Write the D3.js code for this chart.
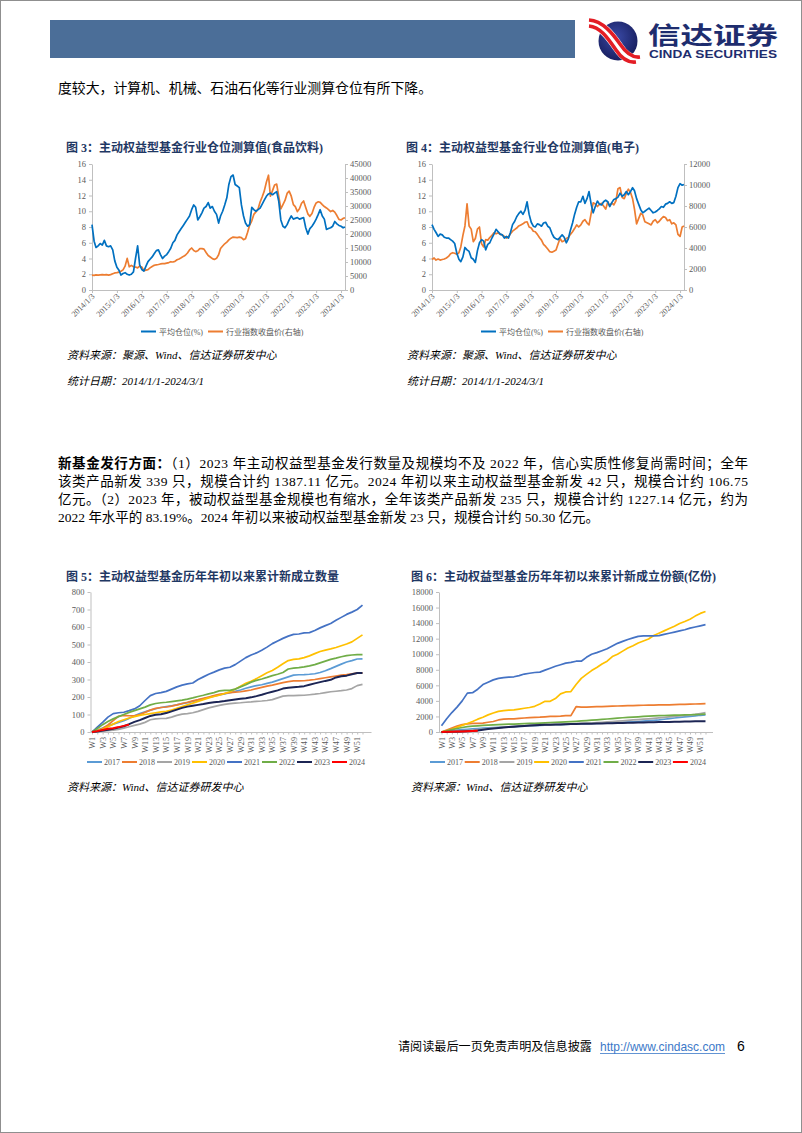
<!DOCTYPE html>
<html><head><meta charset="utf-8">
<script src="https://cdn.jsdelivr.net/npm/d3@7"></script>
<style>html,body{margin:0;padding:0;background:#fff}svg{display:block}</style>
</head><body>
<svg id="page" width="802" height="1133"></svg>
<script>
// ---------------- DATA ----------------
const yearTickLabels = ["2014/1/3","2015/1/3","2016/1/3","2017/1/3","2018/1/3","2019/1/3","2020/1/3","2021/1/3","2022/1/3","2023/1/3","2024/1/3"];
const dualLeftTicks = [0,2,4,6,8,10,12,14,16];
const foodRightTicks = [0,5000,10000,15000,20000,25000,30000,35000,40000,45000];
const elecRightTicks = [0,2000,4000,6000,8000,10000,12000];
const dualLegend = ["平均仓位(%)","行业指数收盘价(右轴)"];

// monthly readings, 2014/1/3 ... 2024/3/1
const foodPosition = [8.3,6.2,5.4,5.6,5.9,5.7,6.3,5.6,5.5,5.6,5.1,3.7,
2.9,2.5,1.9,2.1,2.2,2.0,1.9,2.0,2.3,4.0,5.6,3.2,
2.6,2.4,3.0,3.6,3.9,4.2,4.6,5.0,5.1,4.5,4.0,4.3,
4.5,4.9,5.3,6.0,6.3,7.0,7.4,7.8,8.2,8.6,9.0,9.4,
10.2,10.8,10.5,8.9,9.3,9.8,10.4,10.6,11.1,10.4,10.6,10.0,
9.6,8.5,9.4,10.0,10.8,11.7,13.4,14.4,14.6,13.4,13.2,13.0,
10.8,9.4,8.5,8.1,8.3,10.5,10.2,10.0,10.2,10.4,10.9,11.4,
11.9,12.2,12.3,12.1,12.3,12.5,11.3,8.9,8.1,7.9,8.3,8.9,
9.4,9.0,9.1,9.2,9.0,9.1,9.2,7.9,7.1,7.8,8.1,8.5,
9.0,9.6,10.2,9.4,9.0,7.7,7.8,7.9,8.1,8.7,8.4,8.2,
8.1,7.9,8.0];
const foodIndex = [5300,5200,5400,5300,5400,5500,5400,5500,5300,5500,5800,6100,
6200,6400,6700,7200,8500,11300,8300,8800,8300,8200,7900,8500,
8200,6900,7100,7300,7900,8400,8800,9000,9100,9300,9400,9400,
9600,9800,10100,10000,10200,10800,11100,11500,12000,12400,13200,14300,
15000,14100,13700,14000,14800,14800,14600,13400,12300,11800,11200,10900,
11300,12600,14800,15700,16500,17100,17900,18500,18900,18800,18700,18900,
18700,18000,18300,20600,23200,24700,27000,27900,28900,31400,33300,35300,
38500,41000,33500,35500,37500,37800,33500,29000,30500,32000,34500,35300,
33500,30500,29800,28000,29000,31000,31800,29500,27200,26300,27300,29500,
31100,31500,31300,30500,29800,29300,28700,28000,28400,27800,26600,25200,
25000,25600,25800];
const elecPosition = [8.3,7.7,7.3,6.8,7.1,7.0,6.7,6.6,6.6,6.4,6.2,5.9,
4.7,3.9,3.6,4.2,5.4,5.1,4.9,4.1,3.9,3.5,5.0,6.0,
6.4,6.2,5.1,5.8,6.0,6.6,7.1,7.7,7.4,7.1,7.0,6.6,
6.8,6.6,7.3,8.3,8.7,9.3,9.7,10.0,9.6,10.1,11.2,9.6,
8.6,8.1,8.0,8.4,8.3,8.1,8.5,8.6,8.1,7.9,7.2,6.7,
6.5,6.4,6.7,7.0,6.7,6.0,6.5,7.6,8.5,9.6,10.5,11.2,
11.2,11.9,11.0,11.6,12.5,10.9,9.8,10.6,11.3,10.9,10.8,11.2,
11.4,11.2,10.6,11.1,11.5,11.6,11.8,12.3,11.9,12.1,12.5,12.1,
12.5,13.0,12.6,11.6,10.9,10.2,9.8,10.0,10.2,10.4,10.1,9.8,
9.9,10.1,10.3,10.6,10.5,10.9,11.0,11.2,11.0,11.1,11.9,13.0,
13.5,13.3,13.4];
const elecIndex = [2900,3050,2850,2950,2850,2900,2950,3050,3200,3450,3550,3500,
3400,3550,4100,5200,6100,8200,6100,5800,4600,4900,5800,6000,
4400,4100,4800,4750,5000,5200,5450,5350,5450,5300,5250,5100,
4950,5100,5350,5600,5750,5900,6100,6200,6300,6450,6500,6000,
5900,5600,5550,5300,5000,4750,4350,4150,3900,3650,3600,3700,
3800,4400,4900,4600,4700,4900,5000,5300,5550,5850,6200,6000,
6200,6550,6700,6400,6200,7300,8300,8200,7950,8150,8250,8000,
7700,8400,8000,8300,8100,8500,9650,9750,8800,8700,9200,9600,
9300,8700,7700,6300,6800,7300,7150,6500,6400,6300,6200,6550,
6700,6400,6550,6800,7000,6900,6600,6700,6300,6400,6200,5300,
5100,6000,6100];

// weekly cumulative figures
const years = ["2017","2018","2019","2020","2021","2022","2023","2024"];
const weekTickLabels = ["W1","W3","W5","W7","W9","W11","W13","W15","W17","W19","W21","W23","W25","W27","W29","W31","W33","W35","W37","W39","W41","W43","W45","W47","W49","W51"];
const countTicks = [0,100,200,300,400,500,600,700,800];
const shareTicks = [0,2000,4000,6000,8000,10000,12000,14000,16000,18000];

const count2017 = [0,10,22,35,45,55,65,78,92,105,115,125,133,140,145,150,155,162,168,175,182,190,198,205,212,218,225,232,240,250,258,265,270,278,285,295,305,315,325,327,328,330,333,340,350,362,375,388,400,408,417,418];
const count2018 = [0,8,20,40,65,90,95,93,92,100,112,125,135,140,143,148,155,163,170,178,185,193,200,208,215,220,225,228,230,235,240,248,255,262,268,275,282,288,292,292,293,296,300,305,310,315,320,325,328,332,336,338];
const count2019 = [0,2,5,8,10,15,22,30,38,45,55,70,75,77,78,85,95,102,105,110,118,128,138,145,152,158,162,165,167,170,172,175,177,180,185,195,205,208,208,209,210,213,216,220,225,230,233,236,240,248,265,272];
const count2020 = [0,5,15,30,45,60,70,80,88,95,100,105,110,115,118,125,135,145,155,165,175,185,195,203,210,220,230,245,262,278,290,305,322,338,352,370,390,408,415,418,425,435,448,460,468,475,483,493,503,515,535,555];
const count2021 = [0,28,55,85,105,110,113,122,132,150,180,208,220,225,232,245,258,268,275,280,300,315,330,342,355,365,370,385,405,425,440,452,467,485,505,520,535,548,558,560,566,568,580,595,608,620,638,655,672,685,700,725];
const count2022 = [0,20,42,60,75,88,100,112,122,132,142,155,163,167,170,174,178,182,188,195,203,210,218,225,235,238,238,245,258,270,285,295,303,312,322,330,340,360,365,368,372,378,385,395,405,415,422,430,436,440,442,442];
const count2023 = [0,3,8,13,18,25,33,45,58,68,80,92,98,102,108,118,128,138,145,150,155,160,166,170,173,177,182,186,190,193,198,205,213,222,230,238,248,253,256,258,262,270,278,285,292,298,312,318,322,330,337,337];
const count2024 = [0,5,12,18,22,28,35,42];

const share2017 = [0,80,160,230,300,350,400,450,500,530,560,590,620,650,680,720,760,790,820,850,880,900,930,960,990,1010,1030,1050,1070,1090,1110,1130,1160,1190,1220,1250,1280,1310,1350,1400,1450,1500,1560,1640,1720,1800,1880,1950,2020,2080,2150,2200];
const share2018 = [0,250,500,750,950,1050,1100,1100,1150,1250,1350,1550,1650,1680,1700,1750,1800,1850,1870,1900,1950,2000,2020,2050,2100,2100,3250,3200,3200,3230,3250,3270,3300,3320,3340,3360,3380,3400,3420,3440,3450,3460,3480,3490,3500,3520,3540,3560,3580,3600,3620,3650];
const share2019 = [0,30,70,110,160,210,260,320,380,440,500,560,620,670,720,760,800,830,860,880,900,920,950,980,1010,1040,1070,1100,1130,1160,1200,1240,1290,1340,1390,1440,1500,1550,1600,1650,1700,1760,1820,1880,1940,2000,2060,2120,2180,2260,2380,2500];
const share2020 = [0,150,350,600,850,1100,1350,1650,1900,2200,2450,2650,2750,2800,2850,2950,3050,3150,3300,3600,3950,3950,4300,4900,5150,5200,6100,6900,7400,7900,8300,8750,9100,9700,10000,10400,10800,11100,11450,11700,11950,12400,12700,13000,13300,13600,13950,14200,14500,14900,15250,15500];
const share2021 = [800,1700,2500,3200,4000,5000,5050,5500,6100,6400,6700,6900,7000,7050,7100,7250,7450,7550,7650,7700,7950,8200,8450,8650,8850,8950,9100,9100,9600,10000,10200,10450,10700,11050,11400,11650,11900,12100,12300,12350,12350,12350,12400,12550,12700,12850,13000,13150,13350,13500,13650,13800];
const share2022 = [0,150,300,450,580,680,750,800,850,880,920,950,980,1000,1020,1050,1080,1100,1120,1150,1180,1200,1230,1260,1300,1330,1370,1420,1470,1520,1570,1620,1670,1720,1780,1830,1870,1910,1950,2000,2050,2080,2100,2120,2140,2160,2180,2200,2220,2240,2260,2300];
const share2023 = [0,10,25,40,60,90,130,200,300,380,450,520,580,630,680,730,780,820,860,890,920,940,960,980,1000,1015,1030,1045,1060,1075,1090,1105,1120,1135,1150,1165,1180,1195,1210,1225,1240,1255,1270,1285,1300,1315,1330,1345,1360,1370,1380,1390];
const share2024 = [0,20,40,55,70,90,120,150];

// ---------------- STYLE ----------------
const SERIF = '"Liberation Serif","Noto Sans CJK SC",serif';
const SANS = '"Liberation Sans","Noto Sans CJK SC",sans-serif';
const CJK = '"Noto Sans CJK SC",sans-serif';
const AXIS = "#bfbfbf", TXT = "#595959", TITLE = "#1f3864";
const yearColors = ["#5b9bd5","#ed7d31","#a5a5a5","#ffc000","#4472c4","#70ad47","#1c2554","#ff0000"];

const svg = d3.select("#page");
svg.append("rect").attr("x",0.5).attr("y",0.5).attr("width",801).attr("height",1132)
  .attr("fill","#fff").attr("stroke","#8f8f8f");

// header
svg.append("rect").attr("x",50).attr("y",20).attr("width",525).attr("height",38).attr("fill","#4b6e98");
const defs = svg.append("defs");
const rg = defs.append("radialGradient").attr("id","sph").attr("cx","45%").attr("cy","40%").attr("r","65%");
rg.append("stop").attr("offset","0%").attr("stop-color","#3a4aa6");
rg.append("stop").attr("offset","100%").attr("stop-color","#151b5a");
const logo = svg.append("g");
logo.append("circle").attr("cx",618).attr("cy",41).attr("r",19.5).attr("fill","url(#sph)");
logo.append("path").attr("d","M589,23 C602,24 611,37 618,47 C624,56 630,61 639,60")
  .attr("fill","none").attr("stroke","#fff").attr("stroke-width",11);
logo.append("path").attr("d","M589,20 C603,21 613,34 620,44 C626,53 632,58 640,57")
  .attr("fill","none").attr("stroke","#e31d25").attr("stroke-width",3.6);
logo.append("path").attr("d","M589,26 C601,27 609,40 616,50 C622,59 628,63 636,62")
  .attr("fill","none").attr("stroke","#e31d25").attr("stroke-width",3.6);
logo.append("text").attr("x",648).attr("y",43.5).text("信达证券")
  .attr("font-family",CJK).attr("font-weight",700).attr("font-size",24).attr("fill","#1e2d6e")
  .attr("textLength",130).attr("lengthAdjust","spacingAndGlyphs");
logo.append("text").attr("x",649).attr("y",57.5).text("CINDA SECURITIES")
  .attr("font-family",SANS).attr("font-weight",700).attr("font-size",10).attr("fill","#1e2d6e")
  .attr("textLength",128).attr("lengthAdjust","spacingAndGlyphs");

// body text
svg.append("text").attr("x",58).attr("y",93).text("度较大，计算机、机械、石油石化等行业测算仓位有所下降。")
  .attr("font-family",SERIF).attr("font-size",13.5).attr("fill","#000")
  .attr("textLength",374).attr("lengthAdjust","spacingAndGlyphs");

const para = [
  [["新基金发行方面：",true],["（1）2023 年主动权益型基金发行数量及规模均不及 2022 年，信心实质性修复尚需时间；全年",false]],
  [["该类产品新发 339 只，规模合计约 1387.11 亿元。2024 年初以来主动权益型基金新发 42 只，规模合计约 106.75",false]],
  [["亿元。（2）2023 年，被动权益型基金规模也有缩水，全年该类产品新发 235 只，规模合计约 1227.14 亿元，约为",false]],
  [["2022 年水平的 83.19%。2024 年初以来被动权益型基金新发 23 只，规模合计约 50.30 亿元。",false]]
];
const paraY = [468,486,504,522];
para.forEach((line,i)=>{
  const t = svg.append("text").attr("x",58).attr("y",paraY[i])
    .attr("font-family",SERIF).attr("font-size",13.5).attr("fill","#000");
  if(i<3) t.attr("textLength",690).attr("lengthAdjust","spacing");
  line.forEach(([s,b])=>t.append("tspan").text(s).attr("font-weight",b?700:400));
});

// footer
svg.append("text").attr("x",398).attr("y",1051).text("请阅读最后一页免责声明及信息披露")
  .attr("font-family",SERIF).attr("font-size",12).attr("fill","#000")
  .attr("textLength",194).attr("lengthAdjust","spacingAndGlyphs");
svg.append("text").attr("x",600).attr("y",1051).text("http://www.cindasc.com")
  .attr("font-family",SANS).attr("font-size",13).attr("fill","#3b78c8")
  .attr("textLength",125).attr("lengthAdjust","spacingAndGlyphs");
svg.append("line").attr("x1",600).attr("x2",725).attr("y1",1053.5).attr("y2",1053.5).attr("stroke","#3b78c8").attr("stroke-width",0.8);
svg.append("text").attr("x",737).attr("y",1051).text("6").attr("font-family",SANS).attr("font-size",14).attr("fill","#000");

function styleAxis(g){
  g.select(".domain").attr("stroke",AXIS);
  g.selectAll(".tick line").attr("stroke",AXIS);
  g.selectAll(".tick text").attr("fill",TXT).attr("font-family",SERIF).attr("font-size",8.5);
}
function title(x,y,s){
  svg.append("text").attr("x",x).attr("y",y).text(s)
    .attr("font-family",SERIF).attr("font-weight",700).attr("font-size",12).attr("fill",TITLE);
}
function source(x,y,s){
  svg.append("text").attr("x",x).attr("y",y).text(s)
    .attr("font-family",SERIF).attr("font-style","italic").attr("font-size",11).attr("fill","#000");
}

// ---------------- DUAL AXIS CHARTS ----------------
function pointDate(k,n){ return k===n-1 ? new Date(2024,2,1) : new Date(2014,k,3); }
function parseTick(s){ const p=s.split("/").map(Number); return new Date(p[0],p[1]-1,p[2]); }

function dualChart(o){
  const g = svg.append("g");
  const x = d3.scaleTime().domain([new Date(2014,0,3), new Date(2024,2,1)]).range([o.x0,o.x1]);
  const yL = d3.scaleLinear().domain([0,16]).range([290,164]);
  const yR = d3.scaleLinear().domain([0,o.rightTicks[o.rightTicks.length-1]]).range([290,164]);
  const gl = g.append("g").attr("transform",`translate(${o.x0},0)`)
    .call(d3.axisLeft(yL).tickValues(dualLeftTicks).tickSize(3).tickSizeOuter(0).tickPadding(3));
  styleAxis(gl);
  const gr = g.append("g").attr("transform",`translate(${o.x1},0)`)
    .call(d3.axisRight(yR).tickValues(o.rightTicks).tickSize(3).tickSizeOuter(0).tickPadding(2).tickFormat(d3.format("d")));
  styleAxis(gr);
  const gb = g.append("g").attr("transform","translate(0,290)")
    .call(d3.axisBottom(x).tickValues(yearTickLabels.map(parseTick)).tickSize(3).tickSizeOuter(0)
      .tickFormat((d,i)=>yearTickLabels[i]));
  styleAxis(gb);
  gb.selectAll(".tick text").attr("text-anchor","end").attr("x",0).attr("y",0).attr("dy","0.3em")
    .attr("transform","translate(1,5) rotate(-45)").attr("font-size",8.2);
  const n = o.left.length;
  const lineL = d3.line().x((d,i)=>x(pointDate(i,n))).y(d=>yL(d));
  const lineR = d3.line().x((d,i)=>x(pointDate(i,n))).y(d=>yR(d));
  g.append("path").datum(o.right).attr("d",lineR).attr("fill","none").attr("stroke","#ed7d31").attr("stroke-width",1.7).attr("stroke-linejoin","round");
  g.append("path").datum(o.left).attr("d",lineL).attr("fill","none").attr("stroke","#0070c0").attr("stroke-width",1.7).attr("stroke-linejoin","round");
  // legend
  const lg = g.append("g");
  const lx = [o.lx, o.lx+67];
  ["#0070c0","#ed7d31"].forEach((c,i)=>{
    lg.append("line").attr("x1",lx[i]).attr("x2",lx[i]+15).attr("y1",331.5).attr("y2",331.5).attr("stroke",c).attr("stroke-width",2);
    lg.append("text").attr("x",lx[i]+18).attr("y",334.5).text(dualLegend[i])
      .attr("font-family",SERIF).attr("font-size",8).attr("fill",TXT);
  });
}

title(66,152,"图 3：主动权益型基金行业仓位测算值(食品饮料)");
dualChart({x0:92,x1:345,left:foodPosition,right:foodIndex,rightTicks:foodRightTicks,lx:141});
source(67,359,"资料来源：聚源、Wind、信达证券研发中心");
source(67,385,"统计日期：2014/1/1-2024/3/1");

title(406,152,"图 4：主动权益型基金行业仓位测算值(电子)");
dualChart({x0:432,x1:684,left:elecPosition,right:elecIndex,rightTicks:elecRightTicks,lx:481});
source(407,359,"资料来源：聚源、Wind、信达证券研发中心");
source(407,385,"统计日期：2014/1/1-2024/3/1");

// ---------------- WEEKLY CHARTS ----------------
const weeks = d3.range(1,53).map(i=>"W"+i);
function weekChart(o){
  const g = svg.append("g");
  const x = d3.scalePoint().domain(weeks).range([o.w1,o.w52]);
  const y = d3.scaleLinear().domain([0,o.ticks[o.ticks.length-1]]).range([732,592]);
  const gl = g.append("g").attr("transform",`translate(${o.ax0},0)`)
    .call(d3.axisLeft(y).tickValues(o.ticks).tickSize(3).tickSizeOuter(0).tickPadding(3).tickFormat(d3.format("d")));
  styleAxis(gl);
  const gb = g.append("g").attr("transform","translate(0,732)")
    .call(d3.axisBottom(x).tickValues(weeks).tickSize(2.5).tickSizeOuter(0)
      .tickFormat(d=>weekTickLabels.includes(d)?d:""));
  styleAxis(gb);
  gb.select(".domain").remove();
  g.append("line").attr("x1",o.ax0).attr("x2",o.ax1).attr("y1",732.5).attr("y2",732.5).attr("stroke",AXIS);
  gb.selectAll(".tick text").attr("text-anchor","end").attr("x",0).attr("y",0).attr("dy","0.32em")
    .attr("transform","translate(0,5) rotate(-90)").attr("font-size",8.2);
  const line = d3.line().x((d,i)=>x(weeks[i])).y(d=>y(d));
  o.series.forEach((s,i)=>{
    g.append("path").datum(s).attr("d",line).attr("fill","none").attr("stroke",yearColors[i])
      .attr("stroke-width",i>=6?2:1.7).attr("stroke-linejoin","round");
  });
  years.forEach((yr,i)=>{
    const lx = o.lx + i*o.lstep;
    g.append("line").attr("x1",lx).attr("x2",lx+15).attr("y1",762).attr("y2",762).attr("stroke",yearColors[i]).attr("stroke-width",2);
    g.append("text").attr("x",lx+17).attr("y",765).text(yr).attr("font-family",SERIF).attr("font-size",8).attr("fill",TXT);
  });
}

title(66,581,"图 5：主动权益型基金历年年初以来累计新成立数量");
weekChart({ax0:90.5,ax1:371.5,w1:92,w52:362.5,ticks:countTicks,lx:87,lstep:35,
  series:[count2017,count2018,count2019,count2020,count2021,count2022,count2023,count2024]});
source(67,791,"资料来源：Wind、信达证券研发中心");

title(411,581,"图 6：主动权益型基金历年年初以来累计新成立份额(亿份)");
weekChart({ax0:439,ax1:713,w1:441.5,w52:705.5,ticks:shareTicks,lx:430,lstep:34.7,
  series:[share2017,share2018,share2019,share2020,share2021,share2022,share2023,share2024]});
source(411,791,"资料来源：Wind、信达证券研发中心");
</script>
</body></html>
